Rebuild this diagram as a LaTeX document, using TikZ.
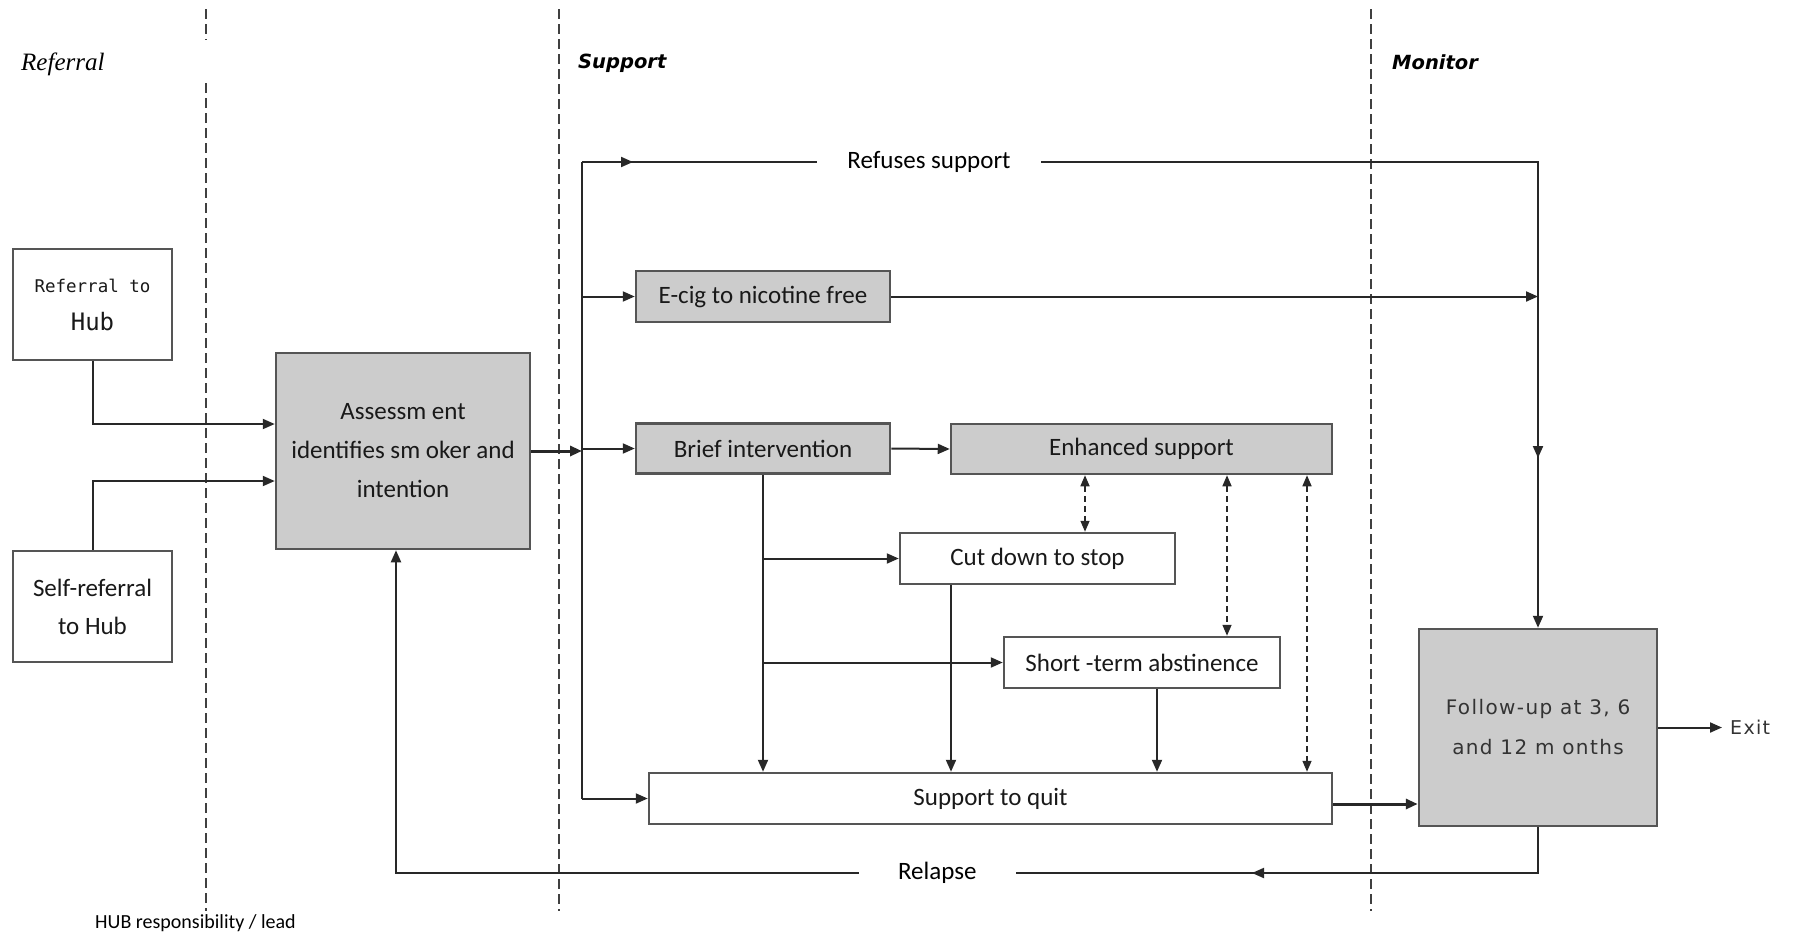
\documentclass[tikz,border=0pt]{standalone}
\usepackage{fontspec}
\setmainfont{Carlito}
\newfontfamily\monofont{DejaVu Sans Mono}
\newfontfamily\headfont{DejaVu Sans}
\newfontfamily\serfont{Liberation Serif}
\newfontfamily\spacedfont[LetterSpace=7]{DejaVu Sans}
\usetikzlibrary{arrows.meta, calc}
\definecolor{boxgrey}{RGB}{204,204,204}
\definecolor{edgegrey}{RGB}{85,85,85}
\definecolor{linegrey}{RGB}{40,40,40}
\tikzset{
  box/.style={draw=edgegrey, line width=2.5pt, fill=white, inner sep=0pt, align=center,
    text=black!90, font=\fontsize{25}{38}\selectfont},
  greybox/.style={box, fill=boxgrey},
  line/.style={draw=linegrey, line width=2pt},
  arr/.style={line, -{Triangle[length=12pt,width=10pt]}},
  darr/.style={draw=linegrey, line width=1.5pt, dash pattern=on 6pt off 4pt,
    {Triangle[length=11pt,width=9pt]}-{Triangle[length=11pt,width=9pt]}},
  sep/.style={draw=black!75, line width=2pt, dash pattern=on 10pt off 5pt},
  gaplabel/.style={fill=white, inner ysep=4pt, font=\fontsize{25}{30}\selectfont}
}
\begin{document}
\begin{tikzpicture}[x=1pt, y=-1pt]
  \useasboundingbox (0,0) rectangle (1796,938);
  \draw[sep] (206,9) -- (206,40);
  \draw[sep] (206,83) -- (206,911);
  \draw[sep] (559,9) -- (559,911);
  \draw[sep] (1371,9) -- (1371,911);

  \node[anchor=west, inner sep=0pt, font=\serfont\itshape\fontsize{25}{30}\selectfont] (hdref) at (21,64) {Referral};
  \node[anchor=west, inner sep=0pt, font=\headfont\bfseries\itshape\fontsize{19.5}{22}\selectfont] (hdsup) at (578,63) {Support};
  \node[anchor=west, inner sep=0pt, font=\headfont\bfseries\itshape\fontsize{19.5}{22}\selectfont] (hdmon) at (1392,62) {Monitor};
  \node[anchor=west, inner sep=0pt, font=\fontsize{20}{24}\selectfont] (hub) at (95,923) {HUB responsibility / lead};

  \node[box, minimum width=159, minimum height=111] (ref) at (92.5,304.5)
    {{\monofont\fontsize{17.5}{36}\selectfont Referral to}\\{\monofont\fontsize{24}{36}\selectfont Hub}};
  \node[box, minimum width=159, minimum height=111] (self) at (92.5,606.5) {Self-referral\\to Hub};
  \node[greybox, minimum width=254, minimum height=196, font=\fontsize{25}{39}\selectfont] (assess) at (403,451)
    {Assessm ent\\identifies sm oker and\\intention};
  \node[greybox, minimum width=254, minimum height=51] (ecig) at (763,296.5) {E-cig to nicotine free};
  \node[greybox, minimum width=254, minimum height=50] (brief) at (763,448.5) {Brief intervention};
  \node[greybox, minimum width=381, minimum height=50] (enh) at (1141.5,449) {Enhanced support};
  \node[box, minimum width=275, minimum height=51] (cut) at (1037.5,558.5) {Cut down to stop};
  \node[box, minimum width=276, minimum height=51] (short) at (1142,662.5) {Short -term abstinence};
  \node[box, minimum width=683, minimum height=51] (quit) at (990.5,798.5) {Support to quit};
  \node[greybox, minimum width=238, minimum height=197, text=black!80,
    font=\spacedfont\fontsize{20}{40}\selectfont] (follow) at (1538,727.5) {Follow-up at 3, 6\\and 12 m onths};
  \node[anchor=west, inner sep=0pt, inner xsep=8pt, text=black!80,
    font=\spacedfont\fontsize{19}{22}\selectfont] (exit) at (1722,727.5) {Exit};

  \coordinate (trunktop) at (582,162);
  \coordinate (trunkbot) at (582,798.5);
  \coordinate (refarr) at (633,162);
  \coordinate (fcol) at (1538,162);
  \coordinate (fmid) at (1538,458);
  \coordinate (relc) at (1538,873);
  \coordinate (relb) at (396,873);
  \coordinate (relarr) at (1252,873);
  \coordinate (rin) at ($(assess.west)+(0,-27)$);
  \coordinate (sin) at ($(assess.west)+(0,30)$);
  \coordinate (qout) at ($(quit.east)+(0,5.5)$);
  \coordinate (cutx) at (951,0);
  \coordinate (shortx) at (1157,0);
  \coordinate (dx1) at (1085,0);
  \coordinate (dx2) at (1227,0);
  \coordinate (dx3) at (1307,0);

  \draw[arr] (ref.south) |- (rin);
  \draw[arr] (self.north) |- (sin);
  \draw[arr, line width=3pt] (assess.east) -- (assess.east -| trunktop);
  \draw[line] (trunktop) -- (trunkbot);
  \draw[arr] (trunktop) -- node[pos=0.363, gaplabel, inner xsep=30pt] (refuse) {Refuses support} (fcol) -- (follow.north);
  \draw[arr] (trunktop) -- (refarr);
  \draw[arr] (fcol) -- (fmid);
  \draw[arr] (trunktop |- ecig.west) -- (ecig.west);
  \draw[arr] (ecig.east) -- (ecig.east -| fcol);
  \draw[arr] (trunktop |- brief.west) -- (brief.west);
  \draw[arr] (trunkbot) -- (quit.west);
  \draw[arr] (brief.east) -- (enh.west);
  \draw[arr] (brief.south) -- (brief.south |- quit.north);
  \draw[arr] (brief.south |- cut.west) -- (cut.west);
  \draw[arr] (brief.south |- short.west) -- (short.west);
  \draw[arr] (cutx |- cut.south) -- (cutx |- quit.north);
  \draw[arr] (shortx |- short.south) -- (shortx |- quit.north);
  \draw[darr] (dx1 |- enh.south) -- (dx1 |- cut.north);
  \draw[darr] (dx2 |- enh.south) -- (dx2 |- short.north);
  \draw[darr] (dx3 |- enh.south) -- (dx3 |- quit.north);
  \draw[arr, line width=3pt] (qout) -- (qout -| follow.west);
  \draw[arr] (follow.east) -- (exit.west);
  \draw[arr] (follow.south) -- (relc) -- node[pos=0.526, gaplabel, inner xsep=39.5pt] (relapse) {Relapse} (relb) -- (relb |- assess.south);
  \draw[arr] (relc) -- (relarr);
\end{tikzpicture}
\end{document}
